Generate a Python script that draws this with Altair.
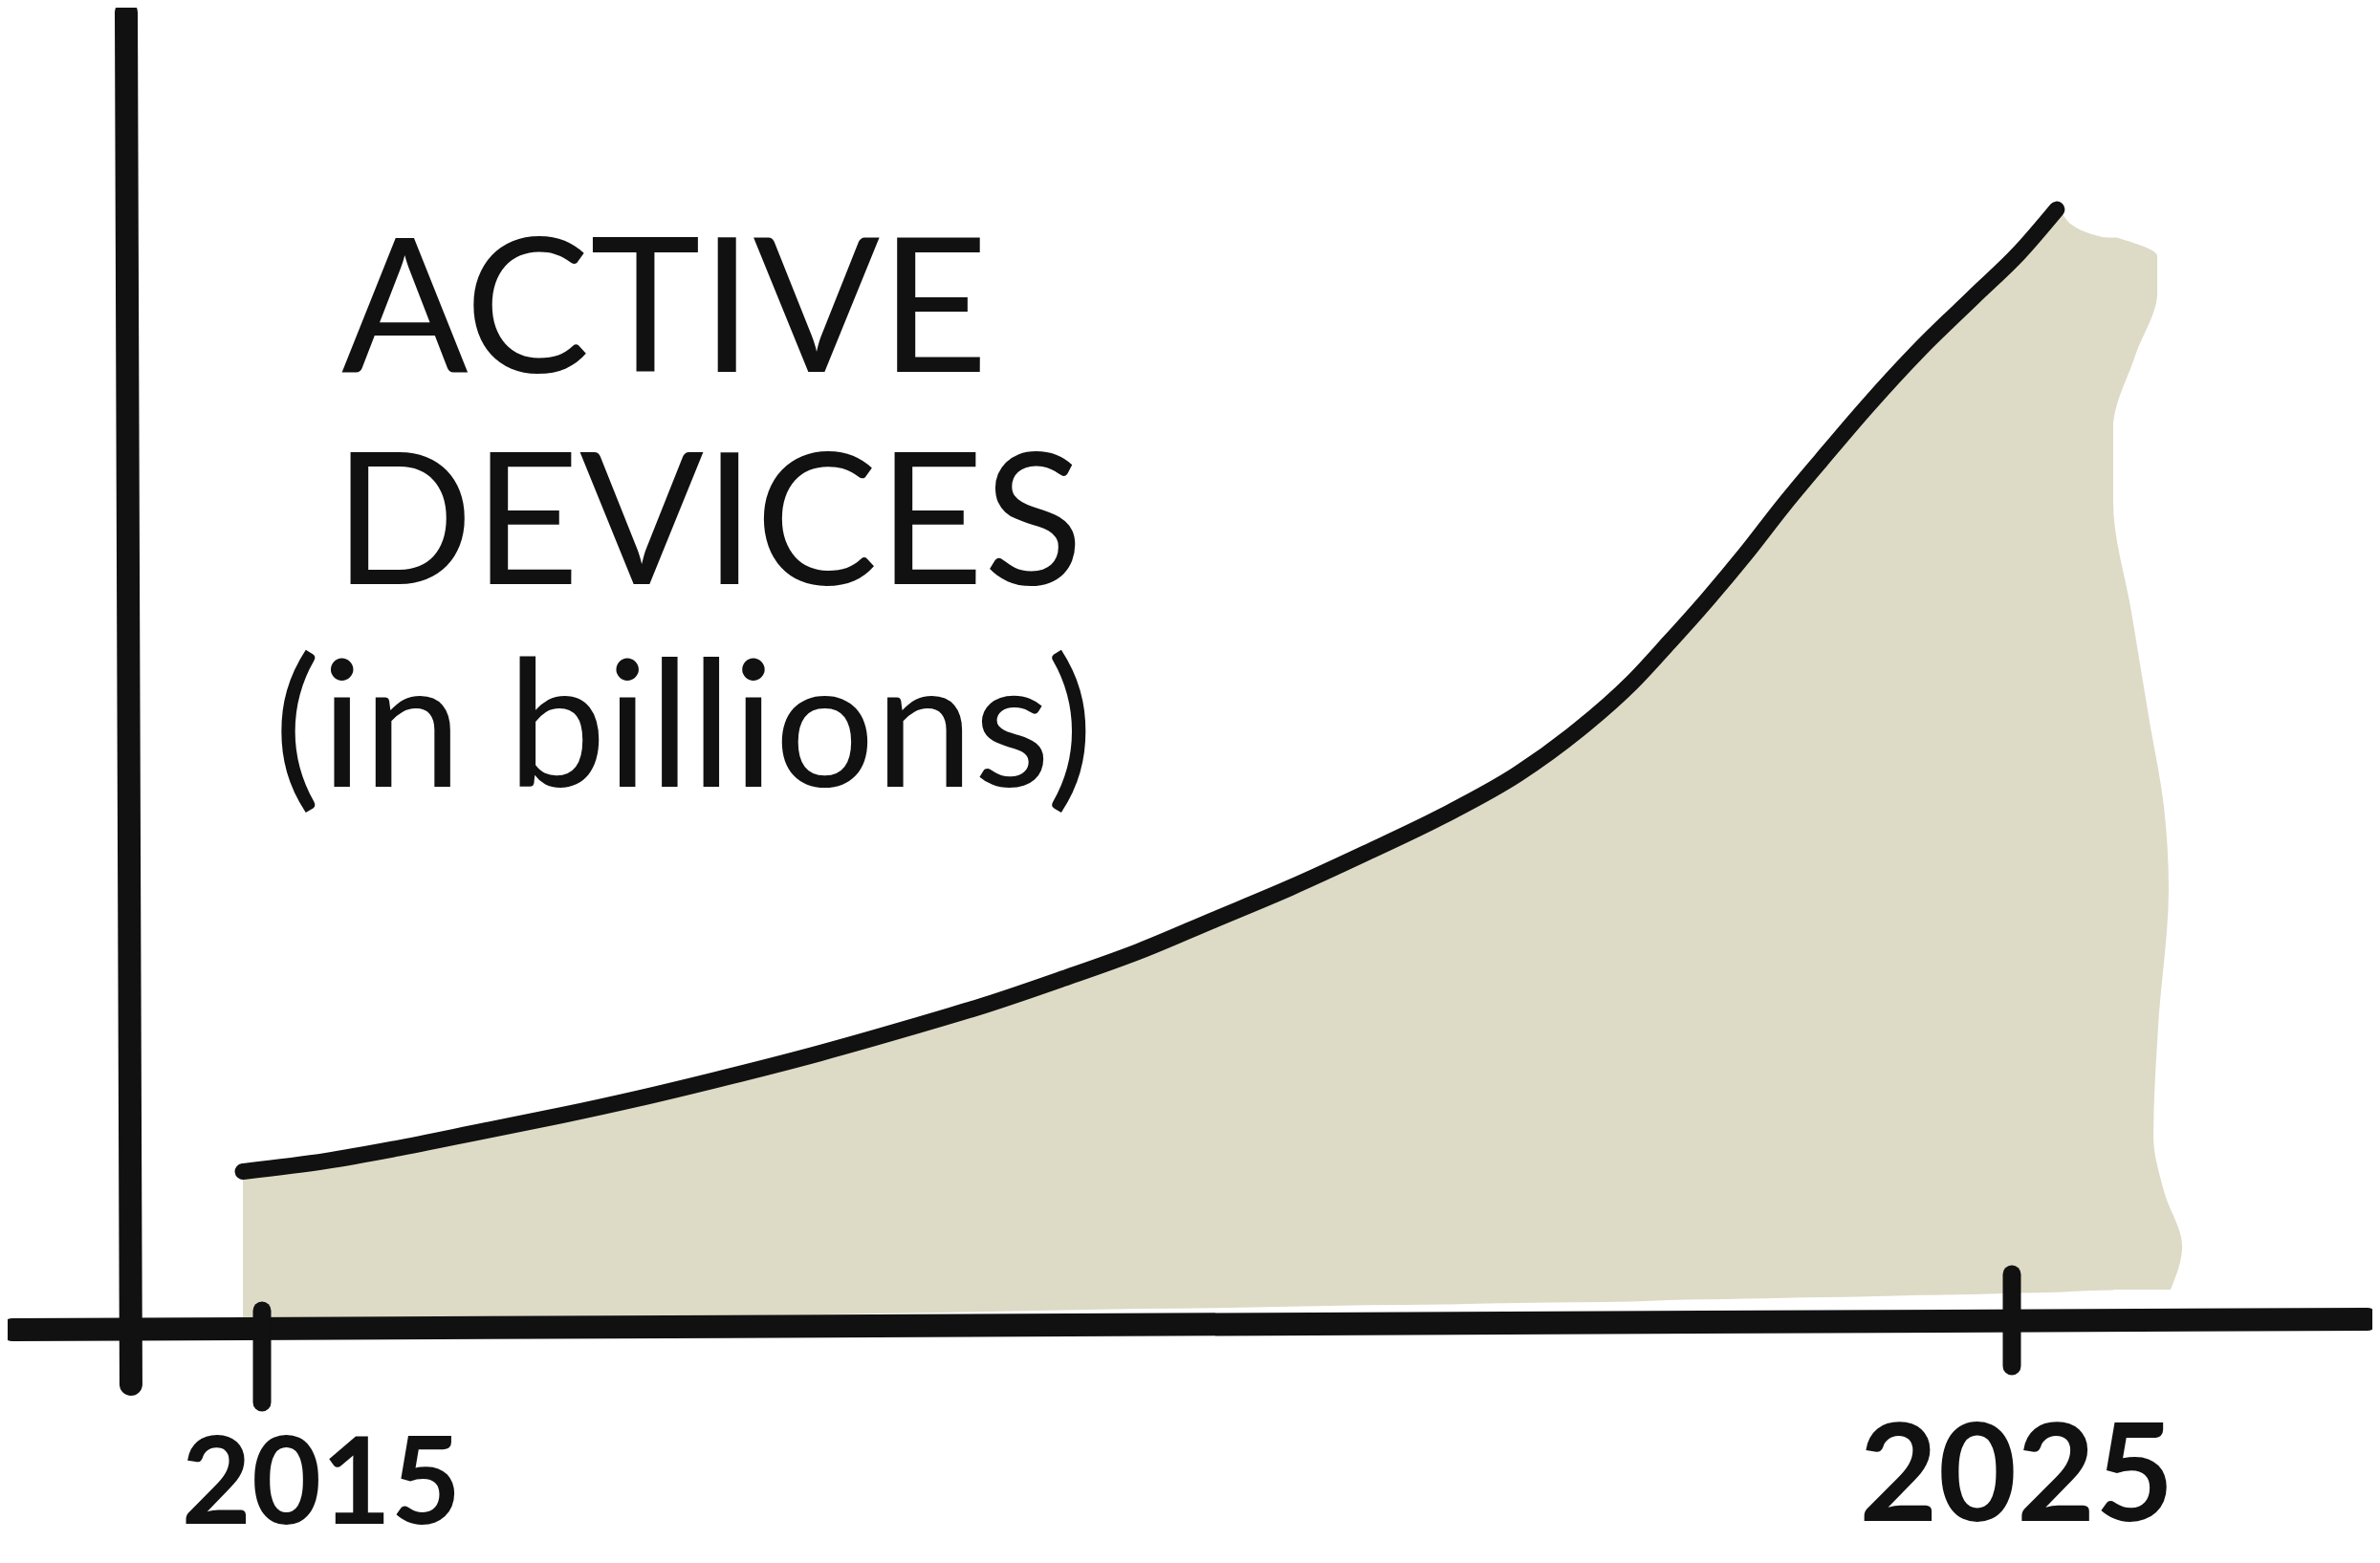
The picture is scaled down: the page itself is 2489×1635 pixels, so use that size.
import altair as alt
import pandas as pd

# ---- data ----
line_years = [2014.891, 2015.368, 2015.758, 2016.279, 2016.712, 2017.146, 2017.580, 2018.187,
              2018.707, 2019.141, 2019.575, 2020.009, 2020.442, 2020.876, 2021.310, 2021.743,
              2022.177, 2022.524, 2022.828, 2023.044, 2023.261, 2023.478, 2023.695, 2023.912,
              2024.172, 2024.476, 2024.779, 2025.039, 2025.256]
line_values = [10.17, 10.91, 11.75, 13.03, 14.09, 15.25, 16.52, 18.42,
               20.22, 21.81, 23.61, 25.51, 27.73, 29.96, 32.39, 34.93,
               37.89, 40.97, 44.25, 47.10, 50.07, 53.24, 56.63, 59.80,
               63.51, 67.53, 71.13, 74.19, 77.26]

# fill continues a little past the end of the line
fill_extra_years = [2025.333, 2025.579]
fill_extra_values = [76.27, 75.2]
fill_base = [-0.3, -0.25, -0.2, -0.1, -0.05, 0.0, 0.1, 0.2,
             0.3, 0.4, 0.5, 0.6, 0.65, 0.75, 0.85, 0.9,
             1.0, 1.05, 1.1, 1.2, 1.25, 1.3, 1.35, 1.4,
             1.45, 1.55, 1.6, 1.7, 1.75, 1.8, 1.9]

# ragged right edge of the hand-painted fill
edge_years = [2025.600, 2025.831, 2025.831, 2025.705, 2025.579, 2025.579, 2025.683, 2025.787,
              2025.869, 2025.896, 2025.836, 2025.809, 2025.869, 2025.973, 2025.907]
edge_values = [75.3, 74.0, 71.47, 67.07, 62.0, 56.87, 49.2, 41.53,
               35.6, 29.87, 20.27, 12.6, 8.8, 4.93, 1.93]
edge_inner_year = 2025.5

# hand-drawn axis strokes (start/end in data units)
axis_x_start = [2014.224, 2013.574]
axis_x_end = [2014.251, 2027.03]
axis_y_start = [91.0, -0.87]
axis_y_end = [-4.67, -0.13]

tick_years = [2015, 2025]
tick_top = [0.47, 3.0]
tick_bottom = [-5.93, -3.4]
tick_labels = ["2015", "2025"]
title_lines = ["ACTIVE", "DEVICES", "(in billions)"]

INK = "#111111"
FILL = "#dddac6"

xs = alt.Scale(domain=[2013.5464, 2027.0601], nice=False, zero=False)
ys = alt.Scale(domain=[-16.467, 91.333], nice=False, zero=False)

line_df = pd.DataFrame({"year": line_years, "v": line_values})
fill_df = pd.DataFrame({"year": line_years + fill_extra_years,
                        "v": line_values + fill_extra_values,
                        "base": fill_base})
edge_df = pd.DataFrame({"year": edge_years, "v": edge_values,
                        "inner": [edge_inner_year] * len(edge_years)}).sort_values("v")
axes_df = pd.DataFrame({"x1": axis_x_start, "x2": axis_x_end, "y1": axis_y_start, "y2": axis_y_end})
ticks_df = pd.DataFrame({"year": tick_years, "top": tick_top, "bottom": tick_bottom})
lab_df = pd.DataFrame({"year": tick_years, "label": tick_labels, "zero": [0, 0]})

X = lambda f: alt.X(f, scale=xs, axis=None)
Y = lambda f: alt.Y(f, scale=ys, axis=None)

fill = alt.Chart(fill_df).mark_area(color=FILL, interpolate="monotone").encode(
    x=X("year:Q"), y=Y("v:Q"), y2="base:Q",
)

edge = alt.Chart(edge_df).mark_area(color=FILL, orient="horizontal", interpolate="monotone").encode(
    y=Y("v:Q"), x=X("year:Q"), x2="inner:Q",
)

curve = alt.Chart(line_df).mark_line(
    color=INK, strokeWidth=17, strokeCap="round", strokeJoin="round", interpolate="monotone"
).encode(x=X("year:Q"), y=Y("v:Q"))

axes = alt.Chart(axes_df).mark_rule(color=INK, strokeWidth=24, strokeCap="round").encode(
    x=X("x1:Q"), x2="x2:Q", y=Y("y1:Q"), y2="y2:Q",
)

ticks = alt.Chart(ticks_df).mark_rule(color=INK, strokeWidth=19, strokeCap="round").encode(
    x=X("year:Q"), y=Y("top:Q"), y2="bottom:Q",
)

lab15 = alt.Chart(lab_df.iloc[[0]]).mark_text(
    font="Lato", fontWeight="bold", fontSize=126, color=INK, dx=62, dy=178, baseline="middle"
).encode(x=X("year:Q"), y=Y("zero:Q"), text="label:N")
lab25 = alt.Chart(lab_df.iloc[[1]]).mark_text(
    font="Lato", fontWeight="bold", fontSize=142, color=INK, dx=5, dy=170, baseline="middle"
).encode(x=X("year:Q"), y=Y("zero:Q"), text="label:N")


def title_line(txt, px, py, size):
    return alt.Chart(pd.DataFrame({"t": [txt]})).mark_text(
        font="Lato", fontSize=size, color=INK, align="left", baseline="alphabetic"
    ).encode(x=alt.value(px), y=alt.value(py), text="t:N")


t1 = title_line(title_lines[0], 349, 381, 196)
t2 = title_line(title_lines[1], 341, 603, 192)
t3 = title_line(title_lines[2], 278, 815, 185)

chart = alt.layer(
    fill, edge, curve, axes, ticks, lab15, lab25, t1, t2, t3
).properties(
    width=2473, height=1617, padding=0,
    autosize=alt.AutoSizeParams(type="none"),
    background="white",
).configure_view(stroke=None)

chart.save("out.html", embed_options={"renderer": "svg", "actions": False})
